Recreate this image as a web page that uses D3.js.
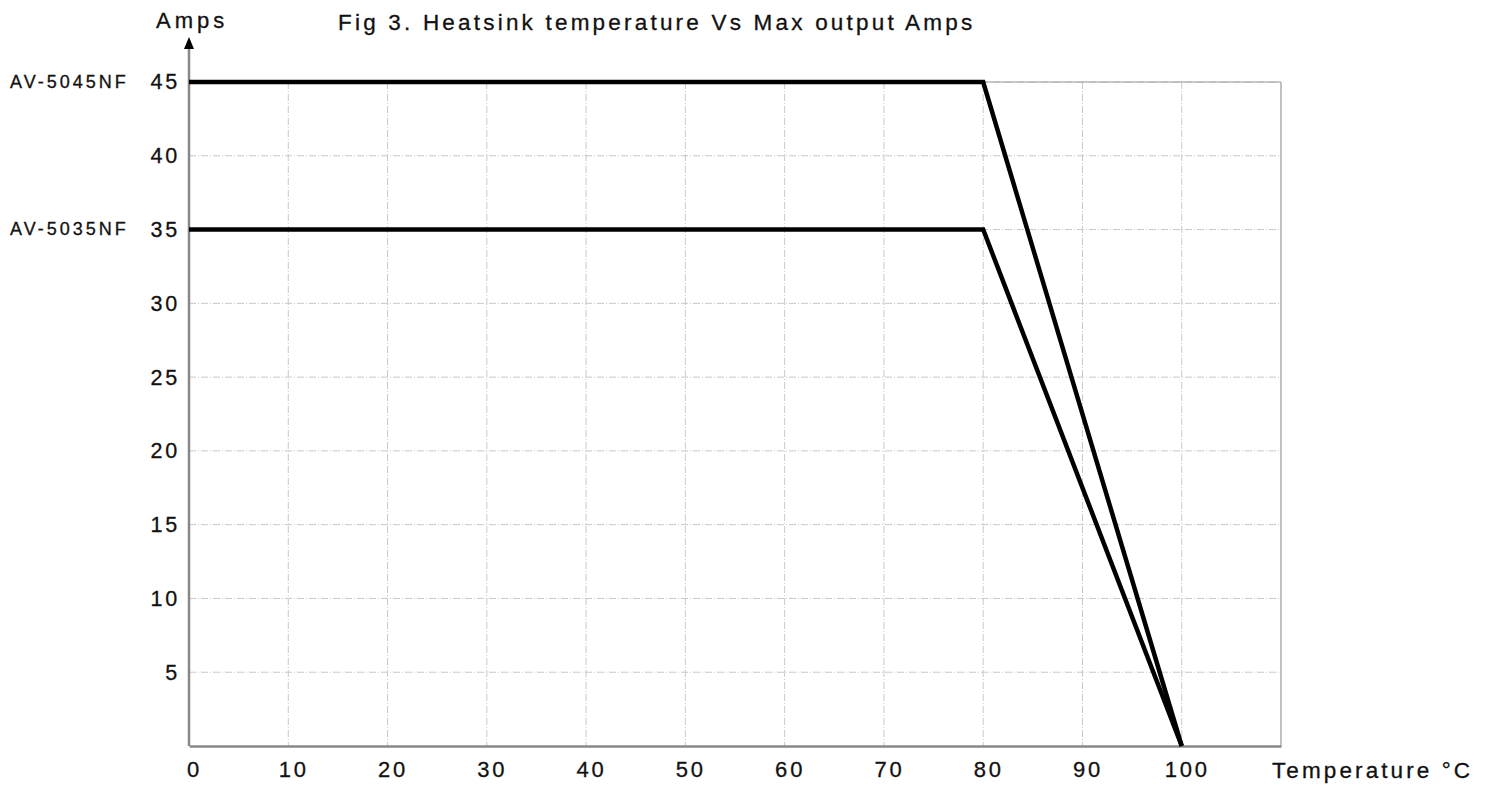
<!DOCTYPE html>
<html lang="en">
<head>
    <meta charset="UTF-8">
    <title>Heatsink temperature Vs Max output Amps</title>
    <script src="https://cdn.jsdelivr.net/npm/d3@7"></script>
    <style>
        html, body {
            margin: 0;
            background: #fff;
        }

        text {
            font-family: "Liberation Sans", Arial, sans-serif;
            fill: #111;
            stroke: #111;
            stroke-width: 0.3px;
        }

        .grid line {
            stroke: #c8c8c8;
            stroke-width: 1px;
            stroke-dasharray: 7, 2, 1, 2;
        }

        .curve {
            fill: none;
            stroke: #000;
            stroke-width: 4.5px;
            stroke-linejoin: miter;
        }
    </style>
</head>
<body>
<div class="chart"></div>

<script>
    // tick values
    var xTicks = [0, 10, 20, 30, 40, 50, 60, 70, 80, 90, 100];
    var yTicks = [5, 10, 15, 20, 25, 30, 35, 40, 45];

    // derating curves (temperature °C, amps)
    var av5045 = [{t: 0, a: 45}, {t: 80, a: 45}, {t: 100, a: 0}];
    var av5035 = [{t: 0, a: 35}, {t: 80, a: 35}, {t: 100, a: 0}];
    var modelNames = [{name: "AV-5045NF", a: 45}, {name: "AV-5035NF", a: 35}];

    var width = 1491, height = 788;
    var margin = {left: 189, top: 82, right: 210, bottom: 42};
    var w = width - margin.left - margin.right;
    var h = height - margin.top - margin.bottom;

    var x = d3.scaleLinear().domain([0, 110]).range([0, w]);
    var y = d3.scaleLinear().domain([0, 45]).range([h, 0]);

    var svg = d3.select('.chart').append('svg')
        .attr('width', width).attr('height', height);

    var g = svg.append('g')
        .attr('transform', 'translate(' + margin.left + ',' + margin.top + ')');

    // grid
    g.append('g').attr('class', 'grid')
        .selectAll('line.v').data(xTicks.filter(function (d) { return d > 0; }))
        .enter().append('line')
        .attr('x1', function (d) { return x(d); }).attr('x2', function (d) { return x(d); })
        .attr('y1', 0).attr('y2', h);

    g.append('g').attr('class', 'grid')
        .selectAll('line.h').data(yTicks)
        .enter().append('line')
        .attr('x1', 0).attr('x2', x(110))
        .attr('y1', function (d) { return y(d); }).attr('y2', function (d) { return y(d); });

    // frame
    g.append('line').attr('x1', 0).attr('x2', x(110)).attr('y1', 0).attr('y2', 0)
        .attr('stroke', '#999').attr('stroke-width', 1.2);
    g.append('line').attr('x1', x(110)).attr('x2', x(110)).attr('y1', 0).attr('y2', h)
        .attr('stroke', '#999').attr('stroke-width', 1.2);

    // axes
    var xAxis = d3.axisBottom(x).tickValues(xTicks).tickSize(0).tickPadding(15);
    var yAxis = d3.axisLeft(y).tickValues(yTicks).tickSize(0).tickPadding(9);

    var gx = g.append('g').attr('transform', 'translate(0,' + h + ')').call(xAxis);
    gx.select('.domain').attr('stroke', '#888').attr('stroke-width', 2.5);
    gx.selectAll('text').attr('font-size', 22).attr('dx', 5).attr('letter-spacing', 2.8).attr('fill', '#111');

    var gy = g.append('g').call(yAxis);
    gy.select('.domain').remove();
    gy.selectAll('text').attr('font-size', 21.5).attr('letter-spacing', 2.8).attr('fill', '#111');

    g.append('line').attr('x1', 0).attr('x2', 0).attr('y1', h).attr('y2', -34)
        .attr('stroke', '#888').attr('stroke-width', 2.5);
    g.append('path')
        .attr('d', 'M0,' + (-45) + 'L-5,' + (-33) + 'L5,' + (-33) + 'Z')
        .attr('fill', '#000');

    // curves
    var line = d3.line()
        .x(function (d) { return x(d.t); })
        .y(function (d) { return y(d.a); });

    g.append('path').attr('class', 'curve').attr('d', line(av5045));
    g.append('path').attr('class', 'curve').attr('d', line(av5035));

    // model labels
    g.selectAll('.model').data(modelNames).enter().append('text')
        .attr('class', 'model')
        .attr('x', -179).attr('y', function (d) { return y(d.a); })
        .attr('dy', '0.33em')
        .attr('font-size', 18).attr('letter-spacing', 3.0)
        .text(function (d) { return d.name; });

    // titles
    svg.append('text').attr('x', 156).attr('y', 28)
        .attr('font-size', 22).attr('letter-spacing', 4).text('Amps');
    svg.append('text').attr('x', 338).attr('y', 30)
        .attr('font-size', 22.5).attr('letter-spacing', 3.2)
        .text('Fig 3. Heatsink temperature Vs Max output Amps');
    svg.append('text').attr('x', 1272).attr('y', 778)
        .attr('font-size', 22.5).attr('letter-spacing', 3.1)
        .text('Temperature \u00b0C');
</script>
</body>
</html>
